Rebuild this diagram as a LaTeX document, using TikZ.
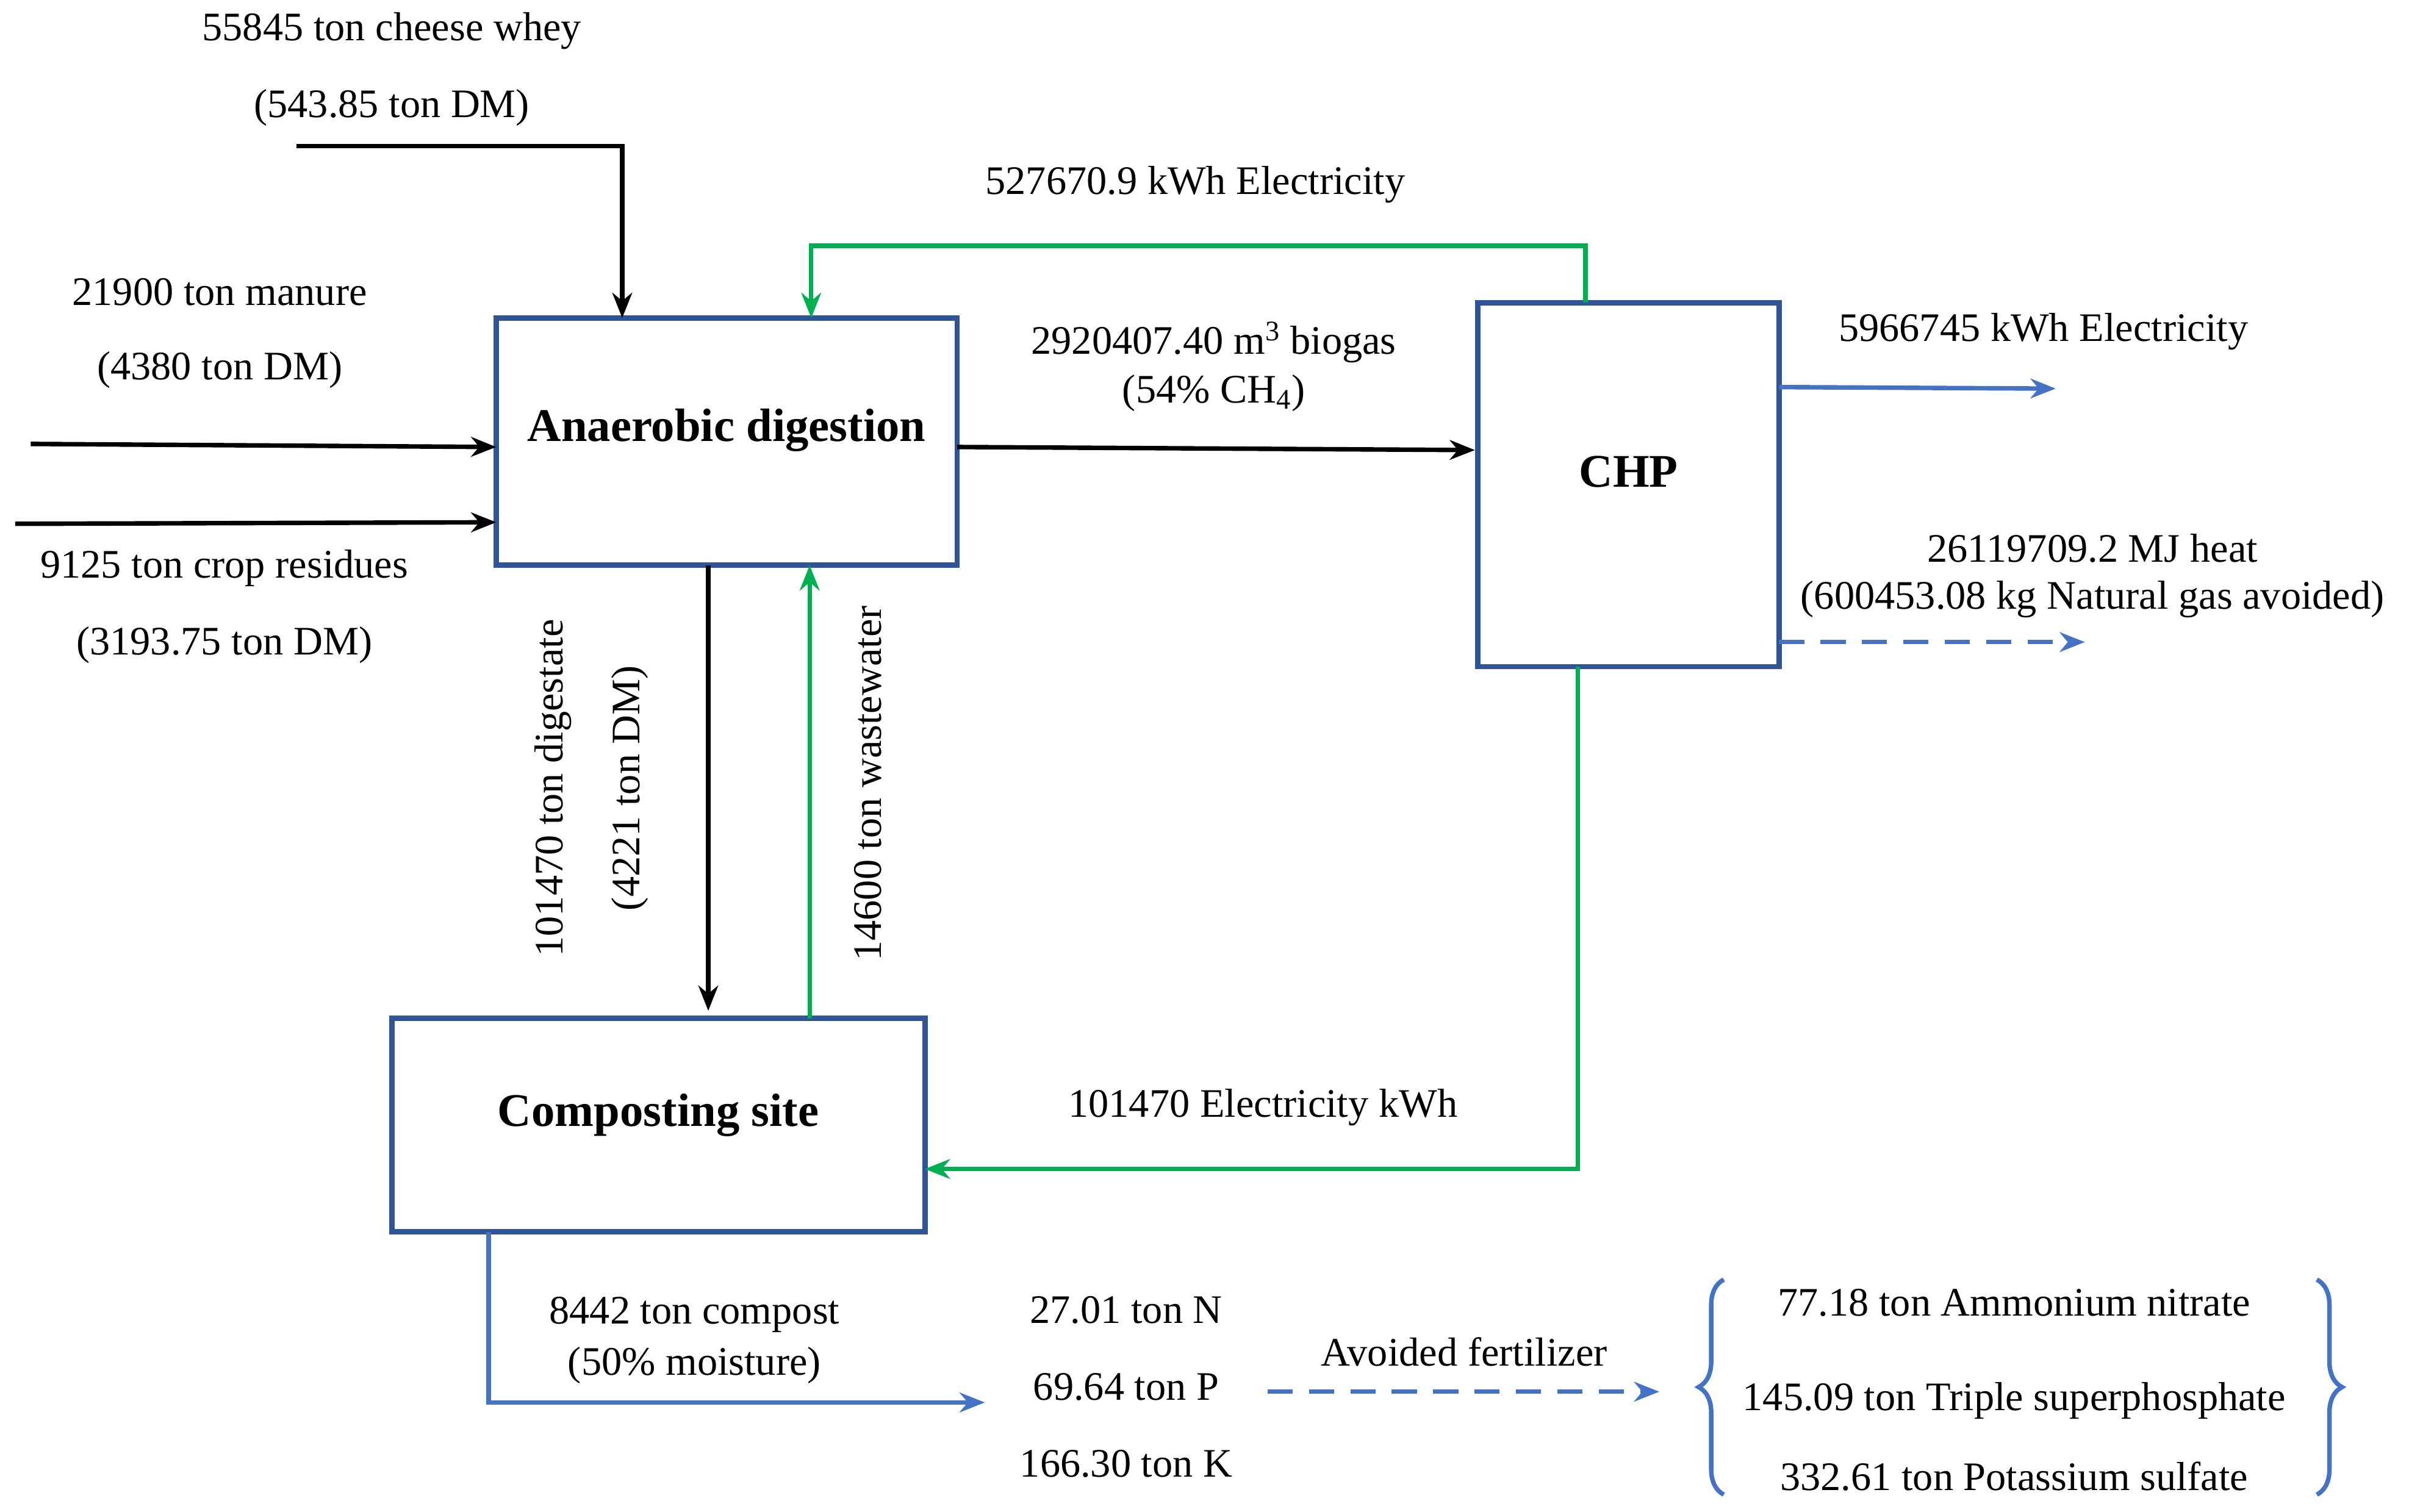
\documentclass[tikz,border=0pt]{standalone}
\usepackage{fontspec}
\setmainfont{Liberation Serif}
\usetikzlibrary{arrows.meta,decorations.pathreplacing}
\definecolor{boxc}{HTML}{2F5597}
\definecolor{gr}{HTML}{00B050}
\definecolor{bl}{HTML}{4472C4}
\begin{document}
\begin{tikzpicture}[x=0.03cm,y=-0.03cm,
 box/.style={draw=boxc,line width=3pt,font=\fontsize{26}{30}\selectfont\bfseries},
 t/.style={font=\fontsize{22.5}{27}\selectfont,inner sep=0pt},
 a/.style={line width=2.5pt,-{Stealth[length=14pt,width=11pt]}}]
\useasboundingbox (0,0) rectangle (1568,984);
\node[box,minimum width=300*0.03cm,minimum height=161*0.03cm] (ad) at (473,287.5) {};
\node[font=\fontsize{26}{30}\selectfont\bfseries] (adl) at (473,280) {Anaerobic digestion};
\node[box,minimum width=196*0.03cm,minimum height=237*0.03cm] (chp) at (1060,315.5) {};
\node[font=\fontsize{26}{30}\selectfont\bfseries] (chpl) at (1060,307) {CHP};
\node[box,minimum width=347*0.03cm,minimum height=139*0.03cm] (cs) at (428.5,732.5) {};
\node[font=\fontsize{26}{30}\selectfont\bfseries] (csl) at (428.5,726) {Composting site};
\foreach \n/\x/\y in {w0/193/95,w1/405/95,m0/20/289,c0/10/341,e1/1032/160,e2/528/160,r1/1338/253,h1/1357/418,g1/1027/761,k1/318/913,k2/641/913,f0/825/906,f1/1080/906}
  \coordinate (\n) at (\x,\y);
\draw[a] (w0) -- (w1) -- (405,207);
\draw[a] (m0) -- (323,291);
\draw[a] (c0) -- (323,340);
\draw[a] (623,291) -- (960,293);
\draw[a,gr] (1032,197) -- (e1) -- (e2) -- (528,207);
\draw[a,bl] (1158,252) -- (r1);
\draw[a,bl,dashed,dash pattern=on 14pt off 9pt] (1158,418) -- (h1);
\draw[a] (461,368) -- (461,658);
\draw[a,gr] (527,663) -- (527,368);
\draw[a,gr] (1027,434) -- (g1) -- (602,761);
\draw[a,bl] (318,802) -- (k1) -- (k2);
\draw[a,bl,dashed,dash pattern=on 14pt off 9pt] (f0) -- (f1);
\node[t] at (255,20) {55845 ton cheese whey};
\node[t] at (255,70) {(543.85 ton DM)};
\node[t] at (143,190) {21900 ton manure};
\node[t] at (143,241) {(4380 ton DM)};
\node[t] at (146,370) {9125 ton crop residues};
\node[t] at (146,420) {(3193.75 ton DM)};
\node[t] at (790,223) {2920407.40 m\textsuperscript{3} biogas};
\node[t] at (790,256) {(54\% CH\textsubscript{4})};
\node[t] at (778,120) {527670.9 kWh Electricity};
\node[t] at (1330,216) {5966745 kWh Electricity};
\node[t] at (1362,357) {26119709.2 MJ heat};
\node[t] at (1362,390) {(600453.08 kg Natural gas avoided)};
\node[t,rotate=90] at (360,513) {101470 ton digestate};
\node[t,rotate=90] at (410,513) {(4221 ton DM)};
\node[t,rotate=90] at (565,510) {14600 ton wastewater};
\node[t] at (822,721) {101470 Electricity kWh};
\node[t] at (452,856) {8442 ton compost};
\node[t] at (452,889) {(50\% moisture)};
\node[t] at (733,853) {27.01 ton N};
\node[t] at (733,903) {69.64 ton P};
\node[t] at (733,953) {166.30 ton K};
\node[t] at (953,880) {Avoided fertilizer};
\node[t] at (1311,848) {77.18 ton Ammonium nitrate};
\node[t] at (1311,912) {145.09 ton Triple superphosphate};
\node[t] at (1311,961) {332.61 ton Potassium sulfate};
\draw[bl,line width=2.5pt,decorate,decoration={brace,amplitude=14pt}] (1122,973) -- (1122,833);
\draw[bl,line width=2.5pt,decorate,decoration={brace,amplitude=14pt}] (1508,833) -- (1508,973);
\end{tikzpicture}
\end{document}
